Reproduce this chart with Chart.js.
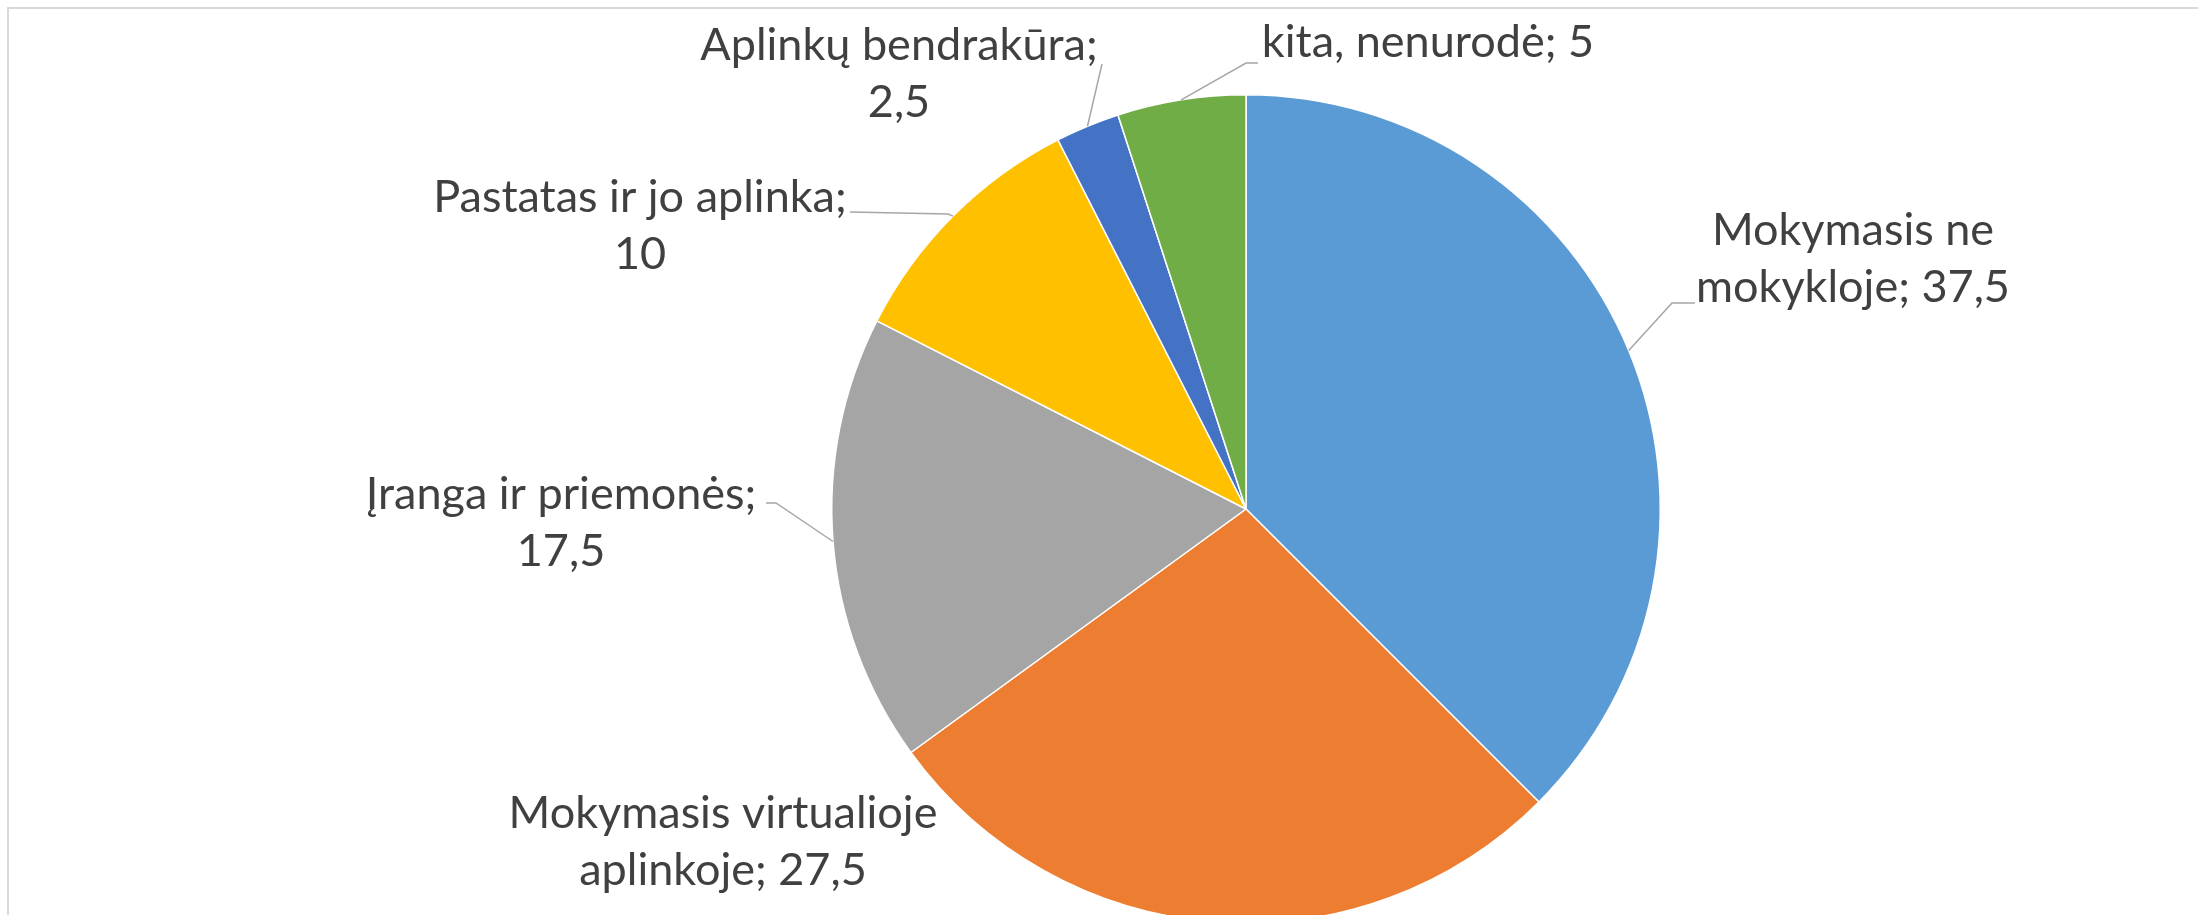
<!DOCTYPE html>
<html>
<head>
<meta charset="utf-8">
<script src="https://cdn.jsdelivr.net/npm/chart.js@4"></script>
<style>
  html, body { margin: 0; padding: 0; background: #fff; overflow: hidden; }
  #wrap { position: relative; width: 2198px; height: 1000px; }
</style>
</head>
<body>
<div id="wrap"><canvas id="pie-chart"></canvas></div>
<script>
// data
const categories = [
    'Mokymasis ne mokykloje',
    'Mokymasis virtualioje aplinkoje',
    'Įranga ir priemonės',
    'Pastatas ir jo aplinka',
    'Aplinkų bendrakūra',
    'kita, nenurodė'
];
const values = [37.5, 27.5, 17.5, 10, 2.5, 5];
const colors = ['#5B9BD5', '#ED7D31', '#A5A5A5', '#FFC000', '#4472C4', '#70AD47'];

// where each data label sits: text centre x, first baseline y, wrap width, leader elbows
const labelLayout = [
    { x: 1853, y: 245, wrap: 340, leader: [[1672, 303], [1695, 303]] },
    { x: 723,  y: 828, wrap: 460, leader: null },
    { x: 561,  y: 509, wrap: 440, leader: [[776, 503], [766, 503]] },
    { x: 640,  y: 212, wrap: 420, leader: [[948, 214], [850, 212]] },
    { x: 899,  y: 60,  wrap: 420, leader: [[1102, 64]] },
    { x: 1428, y: 57,  wrap: 400, leader: [[1246, 63], [1258, 63]] }
];

const FONT = '45px Lato, "Liberation Sans", sans-serif';
const LINE_H = 57;

function fmt(v) {
    return String(v).replace('.', ',');
}

function wrapText(ctx, text, maxW) {
    const words = text.split(' ');
    const lines = [];
    let cur = '';
    words.forEach(w => {
        const test = cur ? cur + ' ' + w : w;
        if (cur && ctx.measureText(test).width > maxW) {
            lines.push(cur);
            cur = w;
        } else {
            cur = test;
        }
    });
    if (cur) lines.push(cur);
    return lines;
}

// frame around the chart, like the Excel chart area
const framePlugin = {
    id: 'frame',
    beforeDraw(chart) {
        const c = chart.ctx;
        c.save();
        c.fillStyle = '#fff';
        c.fillRect(0, 0, chart.width, chart.height);
        c.strokeStyle = '#D9D9D9';
        c.lineWidth = 2;
        c.strokeRect(8, 8, chart.width + 20, chart.height + 20);
        c.restore();
    }
};

// outside labels with leader lines
const labelPlugin = {
    id: 'outsideLabels',
    afterDatasetsDraw(chart) {
        const c = chart.ctx;
        const arcs = chart.getDatasetMeta(0).data;
        c.save();
        c.font = FONT;
        c.fillStyle = '#404040';
        c.textAlign = 'center';
        c.textBaseline = 'alphabetic';
        arcs.forEach((arc, i) => {
            const p = arc.getProps(['x', 'y', 'startAngle', 'endAngle', 'outerRadius'], true);
            const mid = (p.startAngle + p.endAngle) / 2;
            const ex = p.x + Math.cos(mid) * p.outerRadius;
            const ey = p.y + Math.sin(mid) * p.outerRadius;
            const lay = labelLayout[i];
            if (lay.leader) {
                c.beginPath();
                c.strokeStyle = '#A6A6A6';
                c.lineWidth = 1.5;
                c.moveTo(ex, ey);
                lay.leader.forEach(pt => c.lineTo(pt[0], pt[1]));
                c.stroke();
            }
            const text = categories[i] + '; ' + fmt(values[i]);
            const lines = wrapText(c, text, lay.wrap);
            lines.forEach((ln, k) => c.fillText(ln, lay.x, lay.y + k * LINE_H));
        });
        c.restore();
    }
};

const pieTag = document.getElementById('pie-chart');

const pieChart = new Chart(pieTag, {
    type: 'pie',
    data: {
        labels: categories,
        datasets: [{
            data: values,
            backgroundColor: colors,
            borderColor: '#ffffff',
            borderWidth: 1.5
        }]
    },
    options: {
        responsive: true,
        maintainAspectRatio: false,
        animation: false,
        layout: {
            // puts the pie centre at (1246, 509) with radius 415
            padding: { top: 94, bottom: 76, left: 831, right: 537 }
        },
        plugins: {
            legend: { display: false },
            tooltip: { enabled: false }
        }
    },
    plugins: [framePlugin, labelPlugin]
});
</script>
</body>
</html>
